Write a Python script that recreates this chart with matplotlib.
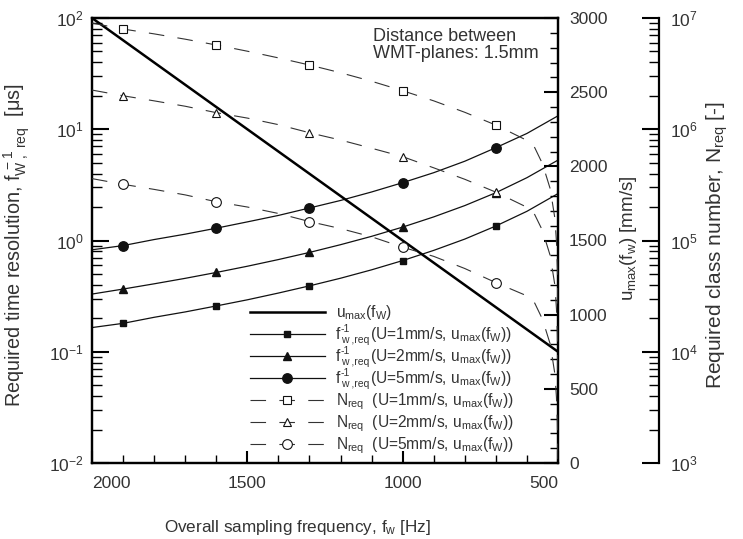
import numpy as np
import matplotlib
matplotlib.use('Agg')
import matplotlib.pyplot as plt
from matplotlib.transforms import offset_copy
from matplotlib.ticker import MultipleLocator, LogLocator, NullFormatter

plt.rcParams['font.family'] = 'Liberation Sans'
plt.rcParams['mathtext.fontset'] = 'custom'
plt.rcParams['mathtext.rm'] = 'Liberation Sans'
plt.rcParams['mathtext.it'] = 'Liberation Sans'
plt.rcParams['mathtext.bf'] = 'Liberation Sans:bold'
plt.rcParams['mathtext.sf'] = 'Liberation Sans'

txt = '#333333'
fs = 12.5

## sampling frequency grid (Hz), markers at 1900/1600/1300/1000/700
f_w = [2000, 1900, 1800, 1700, 1600, 1500, 1400, 1300,
       1200, 1100, 1000, 900, 800, 700, 600, 500]
marks = [1, 4, 7, 10, 13]

# required time resolution f^-1_w,req (us)
t_req_u1 = [0.165, 0.180, 0.204, 0.228, 0.258, 0.293, 0.337, 0.391,
            0.458, 0.545, 0.66, 0.815, 1.03, 1.35, 1.83, 2.64]
t_req_u2 = [0.33, 0.366, 0.408, 0.457, 0.516, 0.587, 0.674, 0.781,
            0.917, 1.09, 1.32, 1.63, 2.06, 2.69, 3.67, 5.28]
t_req_u5 = [0.825, 0.90, 1.02, 1.14, 1.29, 1.47, 1.68, 1.96,
            2.29, 2.73, 3.31, 4.07, 5.16, 6.83, 9.17, 13.2]

# max. velocity u_max(f_w) (mm/s)
f_u = [2000, 500]
u_max = [3000, 750]

# required class number N_req (-)
f_n = [2000, 1900, 1800, 1700, 1600, 1500, 1400, 1300, 1200, 1100,
       1000, 900, 800, 700, 600, 575, 550, 525, 510, 505, 502, 500]
n_req_u1 = [9.0e6, 7.96e6, 7.2e6, 6.45e6, 5.72e6, 5.03e6, 4.38e6, 3.78e6,
            3.22e6, 2.70e6, 2.22e6, 1.80e6, 1.42e6, 1.09e6, 7.94e5, 6.84e5,
            4.9e5, 2.91e5, 1.58e5, 9.8e4, 5.7e4, 2.25e4]
n_req_u2 = [2.25e6, 2.0e6, 1.80e6, 1.61e6, 1.41e6, 1.26e6, 1.10e6, 9.3e5,
            8.0e5, 6.75e5, 5.67e5, 4.5e5, 3.55e5, 2.72e5, 1.99e5, 1.71e5,
            1.23e5, 7.3e4, 3.95e4, 2.44e4, 1.42e4, 5.6e3]
n_req_u5 = [3.6e5, 3.2e5, 2.88e5, 2.57e5, 2.23e5, 2.0e5, 1.75e5, 1.48e5,
            1.28e5, 1.08e5, 8.7e4, 7.2e4, 5.6e4, 4.18e4, 3.18e4, 2.74e4,
            1.96e4, 1.17e4, 6.3e3, 3.9e3, 2.3e3, 9.0e2]

# legend texts; f-rows are split into symbol parts and the bracket text
u_cases = ['U=1mm/s', 'U=2mm/s', 'U=5mm/s']
lab_u = '$u_{max}(f_W)$'
lab_tail = '(%s, $u_{max}(f_W)$)'
lab_n = '$N_{req}$  (%s, $u_{max}(f_W)$)'

fig = plt.figure(figsize=(7.43, 5.39), dpi=100)
ax = fig.add_axes([92/743, 76/539, 466/743, 445/539])
ax_u = ax.twinx()
ax_n = ax.twinx()
ax_n.spines['right'].set_position(('axes', (659-92)/466))
for s in ['left', 'top', 'bottom']:
    ax_n.spines[s].set_visible(False)
for a in (ax, ax_u, ax_n):
    for s in a.spines.values():
        s.set_linewidth(1.6)

# line / marker styles
st_u = dict(color='k', lw=1.8)
st_t = dict(color='#111111', lw=0.9)
st_n = dict(color='#333333', lw=0.8, ls=(0, (14, 12)), mfc='white',
            mec='#111111', mew=0.8)
mk = {'s': 5.0, '^': 5.5, 'o': 6.8}
mk_open = {'s': 5.2, '^': 6.2, 'o': 7.0}

# time resolution curves (solid, filled markers)
ax.plot(f_w, t_req_u1, marker='s', ms=mk['s'], markevery=marks, **st_t)
ax.plot(f_w, t_req_u2, marker='^', ms=mk['^'], markevery=marks, **st_t)
ax.plot(f_w, t_req_u5, marker='o', ms=mk['o'], markevery=marks, **st_t)

# class number curves (dashed, open markers)
ax_n.plot(f_n, n_req_u1, marker='s', ms=mk_open['s'], markevery=marks, **st_n)
ax_n.plot(f_n, n_req_u2, marker='^', ms=mk_open['^'], markevery=marks, **st_n)
ax_n.plot(f_n, n_req_u5, marker='o', ms=mk_open['o'], markevery=marks, **st_n)

# max. velocity line
ax_u.plot(f_u, u_max, **st_u)

# x axis: reversed frequency
ax.set_xlim(2000, 500)
ax.set_xticks([2000, 1500, 1000, 500])
ax.set_xticklabels(['2000', '1500', '1000', '500'])
ax.xaxis.set_minor_locator(MultipleLocator(100))
ax.tick_params(axis='x', which='both', direction='in', top=False,
               labelsize=fs, labelcolor=txt, pad=9)
ax.tick_params(axis='x', which='major', length=9, width=1.5)
ax.tick_params(axis='x', which='minor', length=6, width=1.0)
lbls = ax.get_xticklabels()
lbls[0].set_ha('left')
lbls[-1].set_ha('right')
ax.set_xlabel('Overall sampling frequency, $f_w$ [Hz]', fontsize=12.3,
              color=txt)
ax.xaxis.set_label_coords(0.442, -0.124)

# left axis: time resolution
ax.set_yscale('log')
ax.set_ylim(1e-2, 1e2)
ax.yaxis.set_minor_locator(LogLocator(base=10, subs=np.arange(2, 10)))
ax.yaxis.set_minor_formatter(NullFormatter())
ax.tick_params(axis='y', which='both', direction='in', right=False,
               labelsize=fs, labelcolor=txt, pad=6)
ax.tick_params(axis='y', which='major', length=12, width=1.5)
ax.tick_params(axis='y', which='minor', length=7, width=1.0)
ax.set_ylabel('Required time resolution, $f^{\\,-1}_{W\\ ,\\ req}$  [$\\mu$s]',
              fontsize=14.3, color=txt)
ax.yaxis.set_label_coords(-0.128, 0.49)

# first right axis: u_max
ax_u.set_ylim(0, 3000)
ax_u.yaxis.set_major_locator(MultipleLocator(500))
ax_u.yaxis.set_minor_locator(MultipleLocator(100))
ax_u.tick_params(axis='y', which='both', direction='in', labelsize=fs,
                 labelcolor=txt, pad=8)
ax_u.tick_params(axis='y', which='major', length=10, width=1.5)
ax_u.tick_params(axis='y', which='minor', length=6, width=1.0)
ax_u.set_ylabel('$u_{max}(f_w)$ [mm/s]', fontsize=13.5, color=txt)
ax_u.yaxis.set_label_coords(1.128, 0.506)

# second right axis: class number
ax_n.set_yscale('log')
ax_n.set_ylim(1e3, 1e7)
ax_n.yaxis.set_minor_locator(LogLocator(base=10, subs=np.arange(2, 10)))
ax_n.yaxis.set_minor_formatter(NullFormatter())
ax_n.tick_params(axis='y', which='both', direction='in', labelsize=fs,
                 labelcolor=txt, pad=8)
ax_n.tick_params(axis='y', which='major', length=12, width=1.5)
ax_n.tick_params(axis='y', which='minor', length=7, width=1.0)
ax_n.set_ylabel('Required class number, $N_{req}$ [-]', fontsize=15,
                color=txt)
ax_n.yaxis.set_label_coords(1.315, 0.49)

ax.text(0.603, 0.977, 'Distance between\nWMT-planes: 1.5mm',
        transform=ax.transAxes, ha='left', va='top', fontsize=13,
        color=txt, linespacing=1.0)


def shifted(dx, dy):
    # axes coordinates shifted by a fixed amount in points
    return offset_copy(ax.transAxes, fig=fig, x=dx, y=dy, units='points')


# hand-placed legend: sample line with one marker, then the label
leg_styles = [(None, 0, st_u),
              ('s', mk['s'], st_t), ('^', mk['^'], st_t), ('o', mk['o'], st_t),
              ('s', mk_open['s'], st_n), ('^', mk_open['^'], st_n),
              ('o', mk_open['o'], st_n)]
y0, dy = 0.339, 0.0495
lfs = 11.2
for i, (m, ms, st) in enumerate(leg_styles):
    yy = y0 - i * dy
    ax_n.plot([0.339, 0.500], [yy, yy], transform=ax.transAxes,
              clip_on=False, **st)
    if m is not None:
        ax_n.plot([0.418], [yy], marker=m, ms=ms, transform=ax.transAxes,
                  clip_on=False, ls='none',
                  mfc=st.get('mfc', '#111111'), mec='#111111',
                  mew=st.get('mew', 1.0))
    tx, ty = 0.523, yy - 0.011
    if i == 0:
        ax_n.text(tx, ty, lab_u, transform=ax.transAxes, ha='left',
                  va='baseline', fontsize=lfs, color=txt)
    elif i <= 3:
        # f^-1_{w,req} built from plain texts to keep the rows compact
        case = u_cases[i - 1]
        ax_n.text(tx, ty, 'f', transform=ax.transAxes, ha='left',
                  va='baseline', fontsize=lfs, color=txt)
        ax_n.text(tx, ty, '-1', ha='left', va='baseline', fontsize=7.5,
                  color=txt, transform=shifted(3.6, 5.2))
        ax_n.text(tx, ty, 'w ,req', ha='left', va='baseline', fontsize=7.5,
                  color=txt, transform=shifted(3.6, -2.6))
        ax_n.text(tx, ty, lab_tail % case, ha='left', va='baseline',
                  fontsize=lfs, color=txt, transform=shifted(24.5, 0))
    else:
        ax_n.text(tx, ty, lab_n % u_cases[i - 4], transform=ax.transAxes,
                  ha='left', va='baseline', fontsize=lfs, color=txt)

fig.savefig('out.png', dpi=100)
